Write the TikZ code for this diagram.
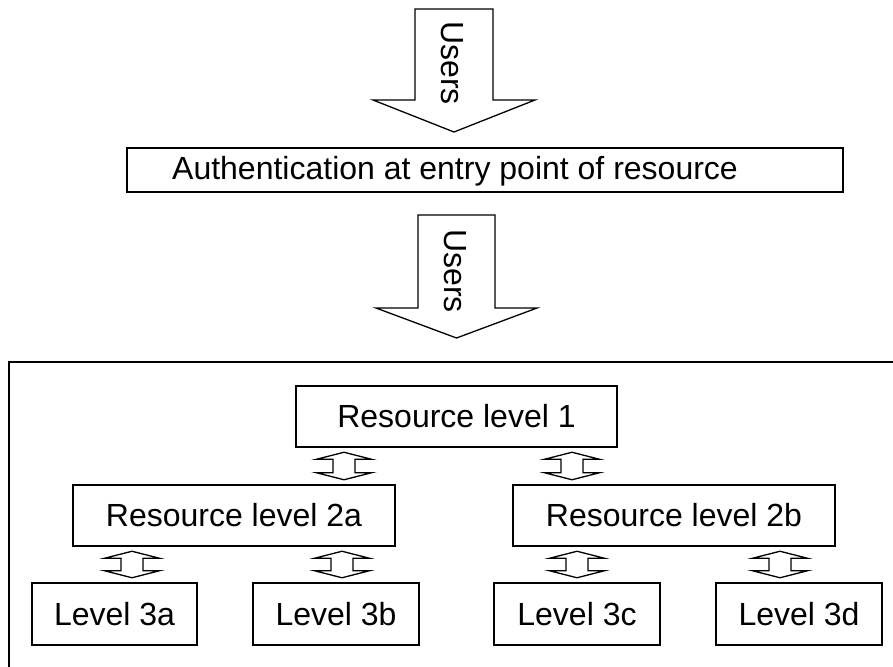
\documentclass[tikz,border=0pt]{standalone}
\usepackage{fontspec}
\setmainfont{Liberation Sans}
\usetikzlibrary{calc}
\newcommand\dblarr[3]{%
  \draw[dbl] let \p1=(#2.south), \p2=(#3.north) in
    (#1,\y1-4.5pt) -- (#1+27.5,\y1-11.5pt) -- (#1+11,\y1-11.5pt) --
    (#1+11,\y2+11.5pt) -- (#1+27.5,\y2+11.5pt) -- (#1,\y2+4.5pt) --
    (#1-27.5,\y2+11.5pt) -- (#1-11,\y2+11.5pt) -- (#1-11,\y1-11.5pt) --
    (#1-27.5,\y1-11.5pt) -- cycle;}
\begin{document}
\begin{tikzpicture}[x=1pt,y=-1pt,
  box/.style={draw, line width=1.5pt, inner sep=0pt, minimum height=61pt,
    font=\fontsize{32}{38}\selectfont},
  txt/.style={inner sep=0pt, font=\fontsize{32}{38}\selectfont},
  dbl/.style={draw, line width=1.3pt, fill=white, line join=miter},
  bigarrow/.style={draw, line width=1.3pt, fill=white, line join=miter},
  frame/.style={draw, line width=1.5pt}]
\useasboundingbox (0,0) rectangle (893,666);

% big arrows
\draw[bigarrow] (415,9) -- (493,9) -- (493,100) -- (535,100) -- (454,132)
  -- (373,100) -- (415,100) -- cycle;
\node[txt, rotate=-90] (u1) at (452,63) {Users};

\node[box, minimum width=716pt, minimum height=44pt] (auth) at (485,170) {};
\node[txt] (authtext) at (455,171) {Authentication at entry point of resource};

\draw[bigarrow] (418,215) -- (495,215) -- (495,308) -- (537,308) -- (456.5,338)
  -- (376,308) -- (418,308) -- cycle;
\node[txt, rotate=-90] (u2) at (455,271) {Users};

% frame
\coordinate (fbl) at (9,680);
\coordinate (ftl) at (9,362);
\coordinate (ftr) at (905,362);
\draw[frame] (fbl) -- (ftl) -- (ftr);

% resource boxes
\node[box, minimum width=321pt] (l1) at (456.5,416.5) {Resource level 1};
\node[box, minimum width=322pt] (l2a) at (234,515.5) {Resource level 2a};
\node[box, minimum width=322pt] (l2b) at (674,515.5) {Resource level 2b};
\node[box, minimum width=165pt, minimum height=62pt] (l3a) at (114.5,614) {Level 3a};
\node[box, minimum width=166pt, minimum height=62pt] (l3b) at (336,614) {Level 3b};
\node[box, minimum width=166pt, minimum height=62pt] (l3c) at (577,614) {Level 3c};
\node[box, minimum width=166pt, minimum height=62pt] (l3d) at (799,614) {Level 3d};

% double arrows
\dblarr{344}{l1}{l2a}
\dblarr{572}{l1}{l2b}
\dblarr{132}{l2a}{l3a}
\dblarr{342}{l2a}{l3b}
\dblarr{577}{l2b}{l3c}
\dblarr{780}{l2b}{l3d}
\end{tikzpicture}
\end{document}
